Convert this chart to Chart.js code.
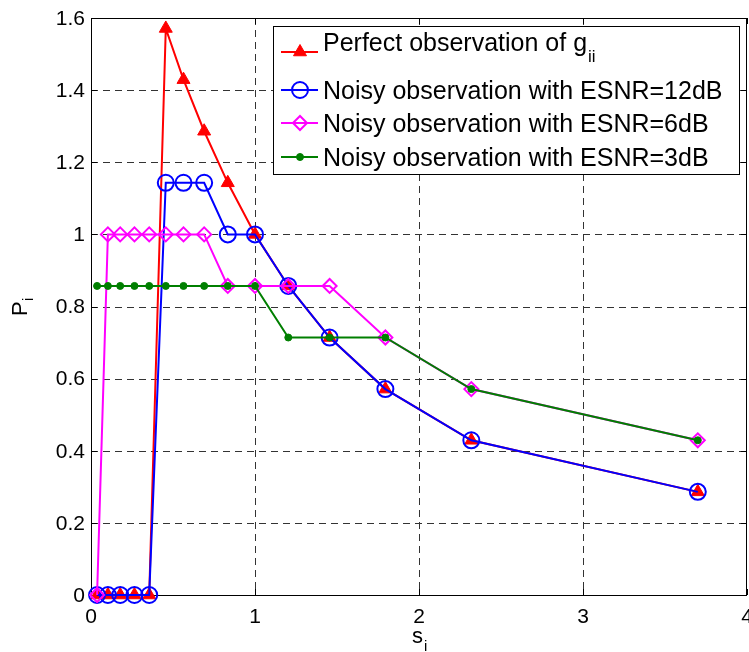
<!DOCTYPE html>
<html>
<head>
<meta charset="utf-8">
<script src="https://cdn.jsdelivr.net/npm/chart.js@4"></script>
<style>
  html, body { margin: 0; padding: 0; background: #fff; overflow: hidden; }
</style>
</head>
<body>
<canvas id="chart" width="749" height="652"></canvas>
<script>
// s_i positions shared by all curves
const sValues = [0.037, 0.103, 0.178, 0.265, 0.355, 0.456, 0.564, 0.690, 0.834, 1.0, 1.203, 1.455, 1.795, 2.319, 3.70];

const perfectObs = [0, 0, 0, 0, 0, 1.571, 1.429, 1.286, 1.143, 1.0, 0.857, 0.714, 0.571, 0.429, 0.286];
const esnr12 = [0, 0, 0, 0, 0, 1.143, 1.143, 1.143, 1.0, 1.0, 0.857, 0.714, 0.571, 0.429, 0.286];
const esnr6 = [0, 1.0, 1.0, 1.0, 1.0, 1.0, 1.0, 1.0, 0.857, 0.857, 0.857, 0.857, 0.714, 0.571, 0.429];
const esnr3 = [0.857, 0.857, 0.857, 0.857, 0.857, 0.857, 0.857, 0.857, 0.857, 0.857, 0.714, 0.714, 0.714, 0.571, 0.429];

const xTicks = [0, 1, 2, 3, 4];
const yTicks = [0, 0.2, 0.4, 0.6, 0.8, 1.0, 1.2, 1.4, 1.6];

const FONT = "'Liberation Sans', Arial, Helvetica, sans-serif";

const toPoints = ys => ys.map((y, i) => ({ x: sValues[i], y }));

// matlab style axes: dashed grid, full box, inward ticks, labels
const axesFrame = {
  id: 'axesFrame',
  beforeDatasetsDraw(chart) {
    const { ctx, chartArea: a, scales: { x, y } } = chart;
    ctx.save();
    ctx.strokeStyle = '#333';
    ctx.lineWidth = 1;
    ctx.setLineDash([7, 5]);
    xTicks.slice(1, -1).forEach(v => {
      const px = Math.round(x.getPixelForValue(v)) + 0.5;
      ctx.beginPath(); ctx.moveTo(px, a.top); ctx.lineTo(px, a.bottom); ctx.stroke();
    });
    yTicks.slice(1, -1).forEach(v => {
      const py = Math.round(y.getPixelForValue(v)) + 0.5;
      ctx.beginPath(); ctx.moveTo(a.left, py); ctx.lineTo(a.right, py); ctx.stroke();
    });
    ctx.setLineDash([]);
    ctx.strokeStyle = '#000';
    ctx.strokeRect(a.left + 0.5, a.top + 0.5, a.right - a.left - 1, a.bottom - a.top);
    // ticks
    xTicks.forEach(v => {
      const px = Math.round(x.getPixelForValue(v)) + 0.5;
      ctx.beginPath();
      ctx.moveTo(px, a.bottom); ctx.lineTo(px, a.bottom - 6);
      ctx.moveTo(px, a.top); ctx.lineTo(px, a.top + 6);
      ctx.stroke();
    });
    yTicks.forEach(v => {
      const py = Math.round(y.getPixelForValue(v)) + 0.5;
      ctx.beginPath();
      ctx.moveTo(a.left, py); ctx.lineTo(a.left + 6, py);
      ctx.moveTo(a.right, py); ctx.lineTo(a.right - 6, py);
      ctx.stroke();
    });
    // tick labels
    ctx.fillStyle = '#000';
    ctx.font = '21px ' + FONT;
    ctx.textAlign = 'center';
    ctx.textBaseline = 'alphabetic';
    xTicks.forEach(v => ctx.fillText(String(v), x.getPixelForValue(v), a.bottom + 28));
    ctx.textAlign = 'right';
    ctx.textBaseline = 'middle';
    yTicks.forEach(v => ctx.fillText(String(Math.round(v * 10) / 10), a.left - 6, y.getPixelForValue(v) + 1));
    // axis titles
    ctx.textAlign = 'left';
    ctx.textBaseline = 'alphabetic';
    ctx.font = '22px ' + FONT;
    ctx.fillText('s', 412, 643);
    ctx.font = '15px ' + FONT;
    ctx.fillText('i', 424, 651);
    ctx.translate(27, 316);
    ctx.rotate(-Math.PI / 2);
    ctx.font = '22px ' + FONT;
    ctx.fillText('P', 0, 0);
    ctx.font = '15px ' + FONT;
    ctx.fillText('i', 15, 6);
    ctx.restore();
  }
};

// boxed legend, top right
const boxLegend = {
  id: 'boxLegend',
  afterDraw(chart) {
    const { ctx } = chart;
    const left = 273, top = 26, right = 739, bottom = 174;
    const rows = [
      { y: 52, base: 51, text: 'Perfect observation of g', sub: 'ii' },
      { y: 90, base: 99, text: 'Noisy observation with ESNR=12dB' },
      { y: 123, base: 132, text: 'Noisy observation with ESNR=6dB' },
      { y: 157, base: 166, text: 'Noisy observation with ESNR=3dB' }
    ];
    ctx.save();
    ctx.fillStyle = '#fff';
    ctx.fillRect(left, top, right - left, bottom - top);
    ctx.strokeStyle = '#000';
    ctx.lineWidth = 1;
    ctx.strokeRect(left + 0.5, top + 0.5, right - left, bottom - top);
    chart.data.datasets.forEach((ds, i) => {
      const r = rows[i];
      ctx.strokeStyle = ds.borderColor;
      ctx.lineWidth = ds.borderWidth;
      ctx.beginPath(); ctx.moveTo(281, r.y); ctx.lineTo(318, r.y); ctx.stroke();
      ctx.fillStyle = ds.pointBackgroundColor;
      ctx.strokeStyle = ds.pointBorderColor;
      ctx.lineWidth = ds.pointBorderWidth;
      Chart.helpers.drawPoint(ctx, { pointStyle: ds.pointStyle, radius: ds.pointRadius, rotation: 0, borderWidth: ds.pointBorderWidth }, 300, r.y);
      ctx.fillStyle = '#000';
      ctx.font = '25px ' + FONT;
      ctx.textAlign = 'left';
      ctx.textBaseline = 'alphabetic';
      ctx.fillText(r.text, 323, r.base);
      if (r.sub) {
        const w = ctx.measureText(r.text).width;
        ctx.font = '17px ' + FONT;
        ctx.fillText(r.sub, 323 + w + 1, r.base + 11);
      }
    });
    ctx.restore();
  }
};

new Chart(document.getElementById('chart'), {
  type: 'line',
  data: {
    datasets: [
      {
        label: 'Perfect observation of gii',
        data: toPoints(perfectObs),
        borderColor: '#ff0000', borderWidth: 2,
        pointStyle: 'triangle', pointRadius: 7.5,
        pointBackgroundColor: '#ff0000', pointBorderColor: '#ff0000', pointBorderWidth: 1,
        order: 3, clip: false
      },
      {
        label: 'Noisy observation with ESNR=12dB',
        data: toPoints(esnr12),
        borderColor: '#0000ff', borderWidth: 2,
        pointStyle: 'circle', pointRadius: 8,
        pointBackgroundColor: 'rgba(0,0,0,0)', pointBorderColor: '#0000ff', pointBorderWidth: 2,
        order: 2, clip: false
      },
      {
        label: 'Noisy observation with ESNR=6dB',
        data: toPoints(esnr6),
        borderColor: '#ff00ff', borderWidth: 2,
        pointStyle: 'rectRot', pointRadius: 7,
        pointBackgroundColor: 'rgba(0,0,0,0)', pointBorderColor: '#ff00ff', pointBorderWidth: 2,
        order: 1, clip: false
      },
      {
        label: 'Noisy observation with ESNR=3dB',
        data: toPoints(esnr3),
        borderColor: '#007f00', borderWidth: 2,
        pointStyle: 'circle', pointRadius: 3.5,
        pointBackgroundColor: '#007f00', pointBorderColor: '#007f00', pointBorderWidth: 1,
        order: 0, clip: false
      }
    ]
  },
  options: {
    responsive: false,
    animation: false,
    devicePixelRatio: 1,
    layout: { autoPadding: false, padding: { top: 18, right: 2, left: 0, bottom: 0 } },
    elements: { line: { tension: 0 } },
    plugins: { legend: { display: false }, tooltip: { enabled: false } },
    scales: {
      x: {
        type: 'linear', min: 0, max: 4,
        ticks: { display: false, stepSize: 1 },
        grid: { display: false }, border: { display: false },
        afterFit: s => { s.height = 57; }
      },
      y: {
        type: 'linear', min: 0, max: 1.6,
        ticks: { display: false, stepSize: 0.2 },
        grid: { display: false }, border: { display: false },
        afterFit: s => { s.width = 91; }
      }
    }
  },
  plugins: [axesFrame, boxLegend]
});
</script>
</body>
</html>
